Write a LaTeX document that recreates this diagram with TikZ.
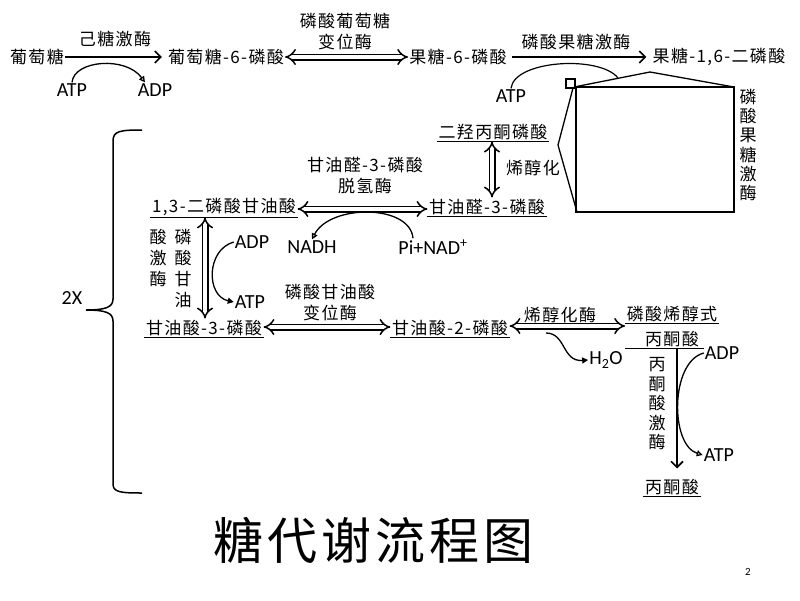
\documentclass[tikz,border=0pt]{standalone}
\usepackage{fontspec}
\setmainfont{Noto Sans CJK SC}[LetterSpace=8]
\newfontfamily\latfont{Carlito}
\usetikzlibrary{arrows.meta,positioning,calc}
\tikzset{
	lbl/.style={font=\fontsize{17}{21}\selectfont,inner sep=1pt},
	eng/.style={font=\latfont\fontsize{20}{22}\selectfont,inner sep=1pt},
	ul/.style={lbl,inner sep=1.5pt,append after command={(\tikzlastnode.south west) edge[line width=1pt] (\tikzlastnode.south east)}},
	dbl/.style={double,double distance=4pt,line width=1.5pt,{Implies}-{Implies}},
	onearrow/.style={line width=1.6pt,-{Straight Barb[length=6pt,width=12pt]}},
	curveo/.style={line width=1.3pt,-{Triangle[open,length=6pt,width=6pt]}},
	curvef/.style={line width=1.3pt,-{Triangle[length=6pt,width=6pt]}}
}
\begin{document}
\begin{tikzpicture}[x=1pt,y=-1pt]
	\useasboundingbox (0,0) rectangle (800,600);
	\node[lbl] (glc) at (37,57) {葡萄糖};
	\node[lbl] (g6p) at (226,57) {葡萄糖-6-磷酸};
	\node[lbl] (f6p) at (458,57) {果糖-6-磷酸};
	\node[lbl] (fbp) at (719,57) {果糖-1,6-二磷酸};
	\node[lbl] (hk) at (115,39) {己糖激酶};
	\node[lbl,align=center] (pgi) at (345,32) {磷酸葡萄糖\\变位酶};
	\node[lbl] (pfk) at (576,42) {磷酸果糖激酶};
	\draw[onearrow,shorten >=5pt] (glc) -- (g6p);
	\draw[dbl] (g6p) -- (f6p);
	\draw[onearrow,shorten <=4pt,shorten >=5pt] (f6p) -- (fbp);
	\node[eng] (atp1) at (72,90) {ATP};
	\node[eng] (adp1) at (155,90) {ADP};
	\draw[curveo] (atp1.north) .. controls (74,60) and (126,56) .. ([xshift=-10pt]adp1.north);
	\node[eng] (atp2) at (511,96) {ATP};
	\coordinate (roof) at (618,78);
	\draw[line width=1.2pt] (atp2.north) .. controls (514,60) and (600,55) .. (roof);
	\draw[line width=1.3pt] (566,79) rectangle (575,88);
	\draw[line width=1.3pt] (574,87) -- (650,72) -- (734,87);
	\draw[line width=1.3pt] (576,87) rectangle (734,212);
	\draw[line width=1.3pt] (573,88) -- (558,145) -- (577,212);
	\node[lbl,align=center,font=\fontsize{17}{19.2}\selectfont] (pfkv) at (748,145) {磷\\酸\\果\\糖\\激\\酶};
	\node[ul] (dhap) at (493,132) {二羟丙酮磷酸};
	\node[ul] (gap) at (487,207) {甘油醛-3-磷酸};
	\node[lbl] (tim) at (533,168) {烯醇化};
	\draw[dbl] ([xshift=-1pt]dhap.south) -- ([xshift=5pt]gap.north);
	\node[ul] (bpg) at (224,207) {1,3-二磷酸甘油酸};
	\node[lbl,align=center] (gapdh) at (365,176) {甘油醛-3-磷酸\\脱氢酶};
	\draw[dbl] ([yshift=-2pt]gap.west) -- ([yshift=-2pt]bpg.east);
	\node[eng] (nadh) at (312,247) {NADH};
	\node[eng] (pinad) at (433,247) {Pi+NAD\textsuperscript{+}};
	\draw[curveo] ([xshift=-20pt]pinad.north) .. controls (410,204) and (330,204) .. (nadh.north);
	\node[ul] (pg3) at (204,328) {甘油酸-3-磷酸};
	\draw[dbl] ([xshift=-19pt]bpg.south) -- ([xshift=1pt]pg3.north);
	\node[lbl,align=center] (pgka) at (158,258) {酸\\激\\酶};
	\node[lbl,align=center] (pgkb) at (183,269) {磷\\酸\\甘\\油};
	\node[eng] (adp3) at (252,242) {ADP};
	\node[eng] (atp3) at (250,302) {ATP};
	\draw[curvef] (adp3.west) .. controls (206,250) and (206,296) .. (atp3.west);
	\node[ul] (pg2) at (450,328) {甘油酸-2-磷酸};
	\node[lbl,align=center] (pgm) at (330,303) {磷酸甘油酸\\变位酶};
	\draw[dbl] ([yshift=1pt]pg3.east) -- ([yshift=1pt]pg2.west);
	\node[ul] (pep) at (672,314) {磷酸烯醇式};
	\node[lbl] (pep2) at (672,339) {丙酮酸};
	\node[lbl] (eno) at (560,315) {烯醇化酶};
	\draw[dbl] ([yshift=2pt]pg2.east) -- ([yshift=2pt]pg2.east -| pep.west);
	\coordinate (w) at (546,333);
	\node[eng] (h2o) at (606,360) {H\textsubscript{2}O};
	\node[eng] (adp4) at (722,353) {ADP};
	\node[eng] (atp4) at (719,455) {ATP};
	\draw[line width=1pt] (pep.west |- pep2.south) -- (adp4.west |- pep2.south);
	\draw[curvef] (w) .. controls (566,333) and (562,362) .. (h2o.west);
	\node[ul] (pyr) at (672,487) {丙酮酸};
	\node[lbl,align=center,font=\fontsize{17}{19.5}\selectfont] (pk) at (657,404) {丙\\酮\\酸\\激\\酶};
	\draw[onearrow,shorten >=9pt] ([xshift=5pt]pep2.south) -- ([xshift=5pt]pyr.north);
	\draw[curveo] (adp4.west) .. controls (670,362) and (670,445) .. (atp4.west);
	\node[eng] (twox) at (72,298) {2X};
	\draw[line width=1.5pt] (142,130) .. controls (120,130) and (113,131) .. (113,141) -- (113,299) .. controls (113,307) and (106,310) .. (86,310) .. controls (106,310) and (113,313) .. (113,321) -- (113,484) .. controls (113,492) and (120,493) .. (142,493);
	\node[font=\fontsize{50}{50}\selectfont] (title) at (373,540) {糖代谢流程图};
	\node[eng,font=\latfont\fontsize{11}{12}\selectfont] (pnum) at (748,572) {2};
\end{tikzpicture}
\end{document}
